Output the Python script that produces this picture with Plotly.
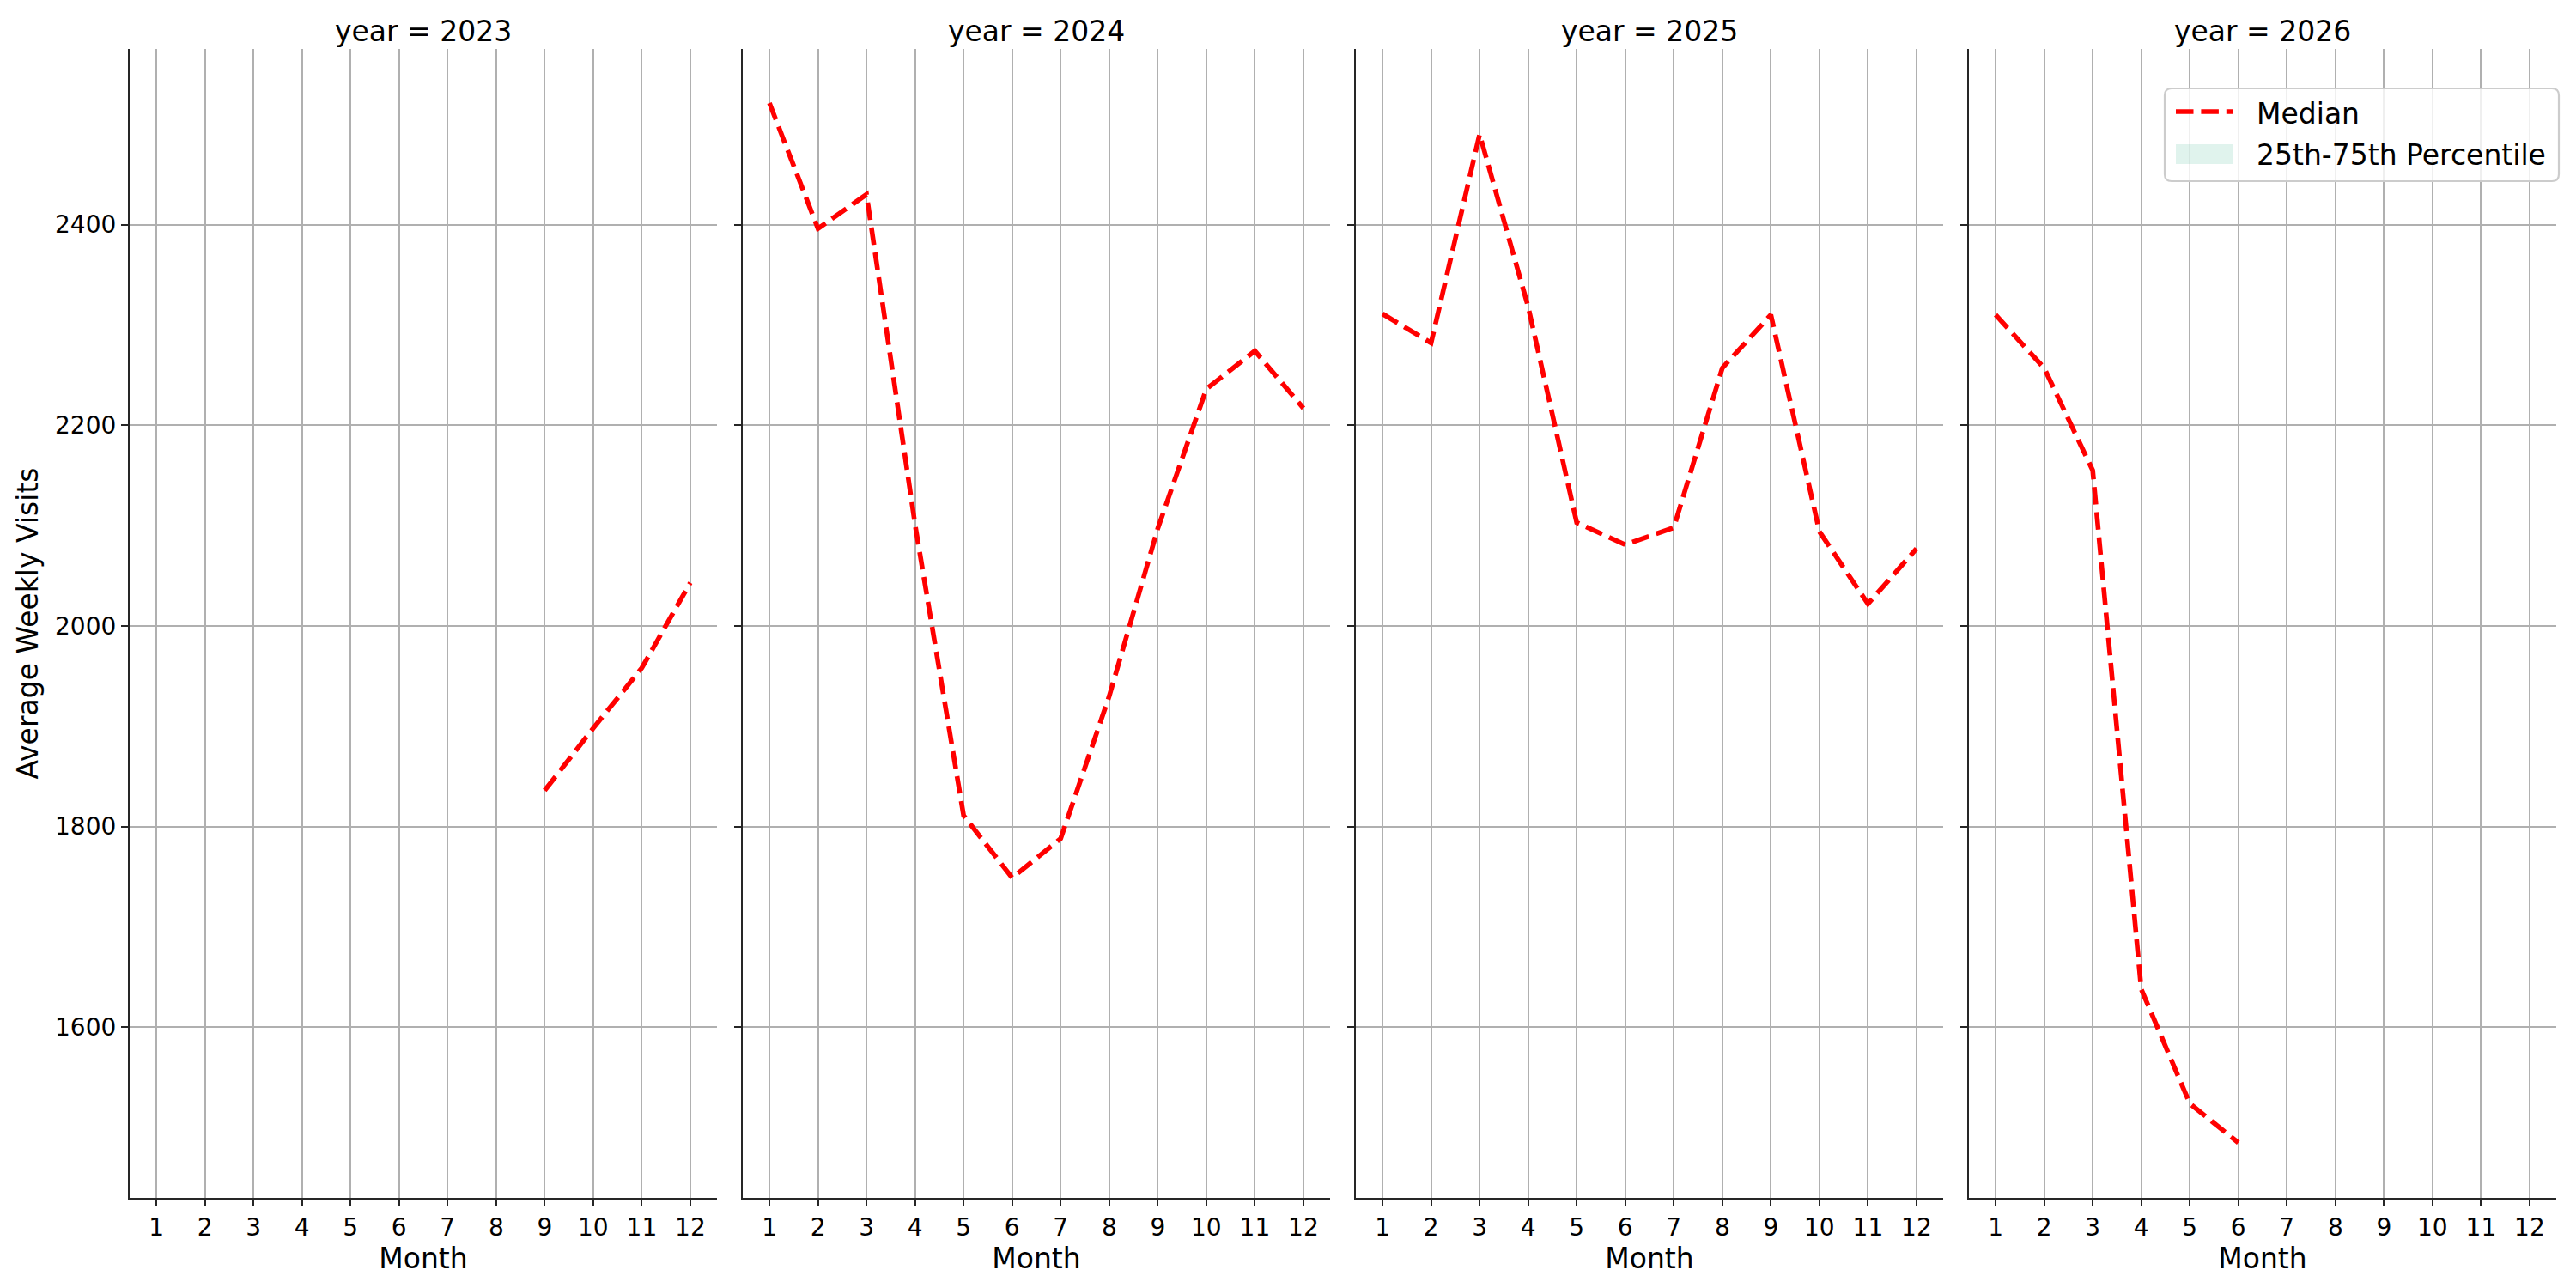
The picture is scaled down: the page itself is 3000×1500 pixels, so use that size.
import plotly.graph_objects as go

years = [2023, 2024, 2025, 2026]
months_2023 = [9, 10, 11, 12]
median_2023 = [1836, 1898, 1958, 2043]
months_2024 = [1, 2, 3, 4, 5, 6, 7, 8, 9, 10, 11, 12]
median_2024 = [2521, 2396, 2430, 2101, 1811, 1749, 1788, 1930, 2097, 2236, 2274, 2217]
months_2025 = [1, 2, 3, 4, 5, 6, 7, 8, 9, 10, 11, 12]
median_2025 = [2311, 2282, 2490, 2318, 2103, 2081, 2098, 2257, 2310, 2094, 2022, 2077]
months_2026 = [1, 2, 3, 4, 5, 6]
median_2026 = [2310, 2257, 2155, 1638, 1524, 1485]

legend_labels = ["Median", "25th-75th Percentile"]

series = {
    2023: (months_2023, median_2023),
    2024: (months_2024, median_2024),
    2025: (months_2025, median_2025),
    2026: (months_2026, median_2026),
}

month_ticks = list(range(1, 13))
y_ticks = [1600, 1800, 2000, 2200, 2400]

W, H = 3000, 1500
ml, mr, mt, mb = 151, 23, 57, 105
pw = W - ml - mr
ph = H - mt - mb
panel_w = 684
gap = (pw - 4 * panel_w) / 3

FONT = "DejaVu Sans"
RED_DASH = "20.5px,8.9px"
BAND = "rgba(102,194,165,0.2)"


def px2x(px):
    return (px - ml) / pw


def px2y(py):
    return 1 - (py - mt) / ph


fig = go.Figure()

for i, yr in enumerate(years):
    xs, ys = series[yr]
    xa = "x" if i == 0 else f"x{i+1}"
    ya = "y" if i == 0 else f"y{i+1}"
    fig.add_trace(go.Scatter(
        x=xs, y=ys, mode="lines", name=legend_labels[0],
        line=dict(color="red", width=5.6, dash=RED_DASH),
        xaxis=xa, yaxis=ya, showlegend=False,
    ))

layout = dict(
    width=W, height=H,
    margin=dict(l=ml, r=mr, t=mt, b=mb, autoexpand=False),
    paper_bgcolor="white", plot_bgcolor="white",
    font=dict(family=FONT, size=28, color="black"),
    showlegend=False,
    annotations=[],
    shapes=[],
)

for i, yr in enumerate(years):
    x0 = i * (panel_w + gap) / pw
    x1 = (i * (panel_w + gap) + panel_w) / pw
    xk = "xaxis" if i == 0 else f"xaxis{i+1}"
    yk = "yaxis" if i == 0 else f"yaxis{i+1}"
    xa = "x" if i == 0 else f"x{i+1}"
    ya = "y" if i == 0 else f"y{i+1}"
    layout[xk] = dict(
        domain=[x0, x1], anchor=ya, range=[0.45, 12.55],
        tickmode="array", tickvals=month_ticks, ticktext=[str(m) for m in month_ticks],
        showgrid=True, gridcolor="#b0b0b0", gridwidth=2.2, zeroline=False,
        showline=True, linecolor="#262626", linewidth=2.2,
        ticks="outside", ticklen=8, tickwidth=2.2, tickcolor="#262626",
        tickfont=dict(family=FONT, size=28, color="black"),
        title=dict(text="Month", font=dict(family=FONT, size=33, color="black"), standoff=6),
    )
    layout[yk] = dict(
        domain=[0, 1], anchor=xa, range=[1430, 2575],
        tickmode="array", tickvals=y_ticks, ticktext=[str(v) for v in y_ticks],
        showticklabels=(i == 0),
        showgrid=True, gridcolor="#b0b0b0", gridwidth=2.2, zeroline=False,
        showline=True, linecolor="#262626", linewidth=2.2,
        ticks="outside", ticklen=8, tickwidth=2.2, tickcolor="#262626",
        tickfont=dict(family=FONT, size=28, color="black"),
    )
    if i == 0:
        layout[yk]["title"] = dict(text="Average Weekly Visits",
                                   font=dict(family=FONT, size=33, color="black"), standoff=9)
    layout["annotations"].append(dict(
        text=f"year = {yr}", xref="paper", yref="paper",
        x=(x0 + x1) / 2, y=px2y(36), xanchor="center", yanchor="middle",
        showarrow=False, font=dict(family=FONT, size=33, color="black"),
    ))

# ---- legend box (matplotlib-style, rounded) ----
bx0, bx1, by0, by1, r = 2521, 2980, 103, 211, 8
rx, ry = r / pw, r / ph
X0, X1, Y0, Y1 = px2x(bx0), px2x(bx1), px2y(by1), px2y(by0)
path = (f"M {X0+rx},{Y0} L {X1-rx},{Y0} Q {X1},{Y0} {X1},{Y0+ry} "
        f"L {X1},{Y1-ry} Q {X1},{Y1} {X1-rx},{Y1} "
        f"L {X0+rx},{Y1} Q {X0},{Y1} {X0},{Y1-ry} "
        f"L {X0},{Y0+ry} Q {X0},{Y0} {X0+rx},{Y0} Z")
layout["shapes"].append(dict(
    type="path", path=path, xref="paper", yref="paper",
    fillcolor="rgba(255,255,255,0.8)", line=dict(color="#cccccc", width=2.2), layer="above",
))
# median handle
layout["shapes"].append(dict(
    type="line", xref="paper", yref="paper",
    x0=px2x(2534), x1=px2x(2601), y0=px2y(130), y1=px2y(130),
    line=dict(color="red", width=5.6, dash=RED_DASH), layer="above",
))
# band handle
layout["shapes"].append(dict(
    type="rect", xref="paper", yref="paper",
    x0=px2x(2534), x1=px2x(2601), y0=px2y(191), y1=px2y(168),
    fillcolor=BAND, line=dict(width=0), layer="above",
))
for lab, yc in zip(legend_labels, [133, 180]):
    layout["annotations"].append(dict(
        text=lab, xref="paper", yref="paper", x=px2x(2626), y=px2y(yc),
        xanchor="left", yanchor="middle", showarrow=False,
        font=dict(family=FONT, size=33, color="black"),
    ))

fig.update_layout(**layout)
fig.write_html("out.html")
